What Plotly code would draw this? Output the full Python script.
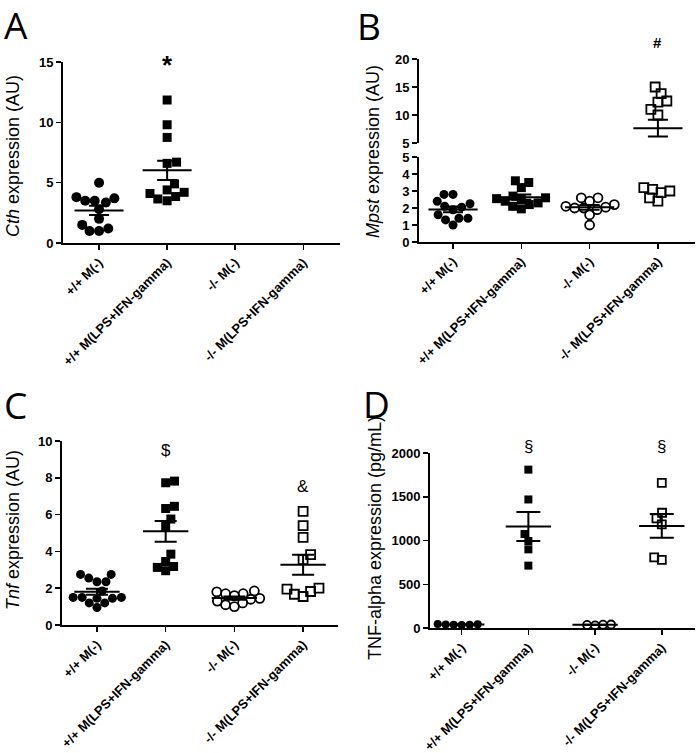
import numpy as np
import plotly.graph_objects as go

# ---------------- data ----------------
categories = ["+/+ M(-)", "+/+ M(LPS+IFN-gamma)", "-/- M(-)", "-/- M(LPS+IFN-gamma)"]

# Panel A: Cth expression (AU)
cth_wt_ctrl = [5.0, 3.8, 3.5, 3.35, 3.5, 3.7, 2.8, 2.0, 1.5, 1.2, 1.0, 1.0]
cth_wt_lps = [11.85, 9.8, 8.75, 6.6, 6.7, 4.9, 4.2, 4.1, 3.65, 3.5, 3.85, 4.4]
cth_ko_ctrl = []
cth_ko_lps = []

# Panel B: Mpst expression (AU)
mpst_wt_ctrl = [2.8, 2.8, 2.4, 2.25, 2.1, 2.05, 1.9, 1.6, 1.4, 1.3, 1.4, 1.0]
mpst_wt_lps = [3.6, 3.5, 3.2, 2.7, 2.6, 2.55, 2.5, 2.4, 2.3, 2.2, 2.1, 1.95]
mpst_ko_ctrl = [2.6, 2.6, 2.4, 2.2, 2.1, 2.05, 2.0, 2.0, 1.9, 1.6, 1.0]
mpst_ko_lps = [15.0, 13.8, 12.5, 12.3, 11.0, 10.0, 3.1, 3.2, 2.9, 3.0, 2.4, 2.6]

# Panel C: Tnf expression (AU)
tnf_wt_ctrl = [2.75, 2.75, 2.55, 2.35, 2.35, 1.85, 1.5, 1.45, 1.45, 1.5, 1.5, 1.2, 1.2, 0.95]
tnf_wt_lps = [7.73, 7.82, 6.45, 6.33, 5.76, 5.36, 3.85, 3.18, 3.45, 3.13, 2.95]
tnf_ko_ctrl = [1.85, 1.8, 1.7, 1.7, 1.6, 1.45, 1.4, 1.3, 1.2, 1.1, 1.0]
tnf_ko_lps = [6.18, 5.4, 4.76, 3.82, 3.55, 2.0, 1.95, 1.82, 1.67, 1.55]

# Panel D: TNF-alpha expression (pg/mL)
tnfa_wt_ctrl = [35, 42, 38, 45, 40, 36]
tnfa_wt_lps = [1810, 1469, 1074, 994, 899, 713]
tnfa_ko_ctrl = [30, 38, 35, 40]
tnfa_ko_lps = [1658, 1317, 1252, 1184, 778, 808]

sig_A = ["", "*", "", ""]
sig_B = ["", "", "", "#"]
sig_C = ["", "$", "", "&"]
sig_D = ["", "§", "", "§"]

# ---------------- styling ----------------
W, H = 697, 753
SYMBOLS = ["circle", "square", "circle-open", "square-open"]
FONT = "Liberation Sans, Arial, sans-serif"


def px(xp):
    return xp / W


def py(yp):
    return 1 - yp / H


def swarm(vals, to_px, d, ppc):
    """Simple beeswarm: x offsets (category units) so markers of diameter d px don't overlap."""
    n = len(vals)
    offs = [0.0] * n
    if n == 0:
        return offs
    order = np.argsort(vals, kind="stable")
    placed = []
    for k, i in enumerate(order):
        y = to_px(vals[i])
        cands = [0.0]
        for xp, yp in placed:
            dy = abs(y - yp)
            if dy < d:
                dx = (d * d - dy * dy) ** 0.5
                cands += [xp + dx, xp - dx]
        sgn = 1 if k % 2 == 0 else -1
        cands.sort(key=lambda c: (round(abs(c), 6), -sgn * c))
        chosen = 0.0
        for c in cands:
            if all((c - xp) ** 2 + (y - yp) ** 2 >= d * d - 1e-6 for xp, yp in placed):
                chosen = c
                break
        placed.append((chosen, y))
        offs[i] = chosen / ppc
    return offs


fig = go.Figure()


def add_group(xa, ya, gi, vals, to_px, d, msize, ppc):
    if len(vals) == 0:
        return
    offs = swarm(vals, to_px, d, ppc)
    sym = SYMBOLS[gi]
    openm = sym.endswith("open")
    fig.add_trace(go.Scatter(
        x=[gi + o for o in offs], y=vals, mode="markers", xaxis=xa, yaxis=ya,
        cliponaxis=False, showlegend=False, hoverinfo="skip",
        marker=dict(symbol=sym, size=msize, color="black",
                    line=dict(color="black", width=1.8 if openm else 0)),
    ))


def add_mean(xa, ya, gi, vals, half, cap):
    if len(vals) == 0:
        return
    m = float(np.mean(vals))
    s = float(np.std(vals, ddof=1) / np.sqrt(len(vals)))
    fig.add_trace(go.Scatter(
        x=[gi], y=[m], mode="markers", xaxis=xa, yaxis=ya, cliponaxis=False,
        showlegend=False, hoverinfo="skip",
        marker=dict(size=1, color="rgba(0,0,0,0)"),
        error_x=dict(type="data", array=[half], visible=True, color="black", thickness=2, width=0),
        error_y=dict(type="data", array=[s], visible=True, color="black", thickness=2, width=cap),
    ))


# Panel A
ppcA, ppuA = 68.0, 181.0 / 15
for gi, vals in enumerate([cth_wt_ctrl, cth_wt_lps, cth_ko_ctrl, cth_ko_lps]):
    add_group("x", "y", gi, vals, lambda v: v * ppuA, 9.5, 10 if gi % 2 == 0 else 9, ppcA)
for gi, vals in enumerate([cth_wt_ctrl, cth_wt_lps, cth_ko_ctrl, cth_ko_lps]):
    add_mean("x", "y", gi, vals, 0.36, 10)

# Panel B (broken axis: y2 = 0..5, y3 = 5..20)
ppcB = 68.3


def toB(v):
    return v * 16.9 if v <= 5 else 99 + (v - 5) * 5.6


for gi, vals in enumerate([mpst_wt_ctrl, mpst_wt_lps, mpst_ko_ctrl, mpst_ko_lps]):
    offs = swarm(vals, toB, 9.0, ppcB)
    low = [(gi + o, v) for o, v in zip(offs, vals) if v <= 5]
    high = [(gi + o, v) for o, v in zip(offs, vals) if v > 5]
    sym = SYMBOLS[gi]
    openm = sym.endswith("open")
    for pts, ya in ((low, "y2"), (high, "y3")):
        if not pts:
            continue
        fig.add_trace(go.Scatter(
            x=[p[0] for p in pts], y=[p[1] for p in pts], mode="markers",
            xaxis="x2", yaxis=ya, cliponaxis=False, showlegend=False, hoverinfo="skip",
            marker=dict(symbol=sym, size=9, color="black",
                        line=dict(color="black", width=1.8 if openm else 0)),
        ))
for gi, vals in enumerate([mpst_wt_ctrl, mpst_wt_lps, mpst_ko_ctrl, mpst_ko_lps]):
    ya = "y2" if np.mean(vals) <= 5 else "y3"
    add_mean("x2", ya, gi, vals, 0.36, 10)

# Panel C
ppcC, ppuC = 68.7, 18.4
for gi, vals in enumerate([tnf_wt_ctrl, tnf_wt_lps, tnf_ko_ctrl, tnf_ko_lps]):
    add_group("x3", "y4", gi, vals, lambda v: v * ppuC, 9.0, 9, ppcC)
for gi, vals in enumerate([tnf_wt_ctrl, tnf_wt_lps, tnf_ko_ctrl, tnf_ko_lps]):
    add_mean("x3", "y4", gi, vals, 0.33, 11)

# Panel D
ppcD, ppuD = 66.7, 175.0 / 2000
for gi, vals in enumerate([tnfa_wt_ctrl, tnfa_wt_lps, tnfa_ko_ctrl, tnfa_ko_lps]):
    add_group("x4", "y5", gi, vals, lambda v: v * ppuD, 8.0, 8, ppcD)
for gi, vals in enumerate([tnfa_wt_ctrl, tnfa_wt_lps, tnfa_ko_ctrl, tnfa_ko_lps]):
    add_mean("x4", "y5", gi, vals, 0.34, 12)

# ---------------- axes ----------------
tickfont = dict(family=FONT, size=13, color="black", weight="bold")
common = dict(showline=True, linecolor="black", linewidth=2, ticks="outside", ticklen=5,
              tickwidth=1.5, tickcolor="black", showgrid=False, zeroline=False,
              tickfont=tickfont, fixedrange=True, automargin=False)
xcommon = dict(common, tickmode="array", tickvals=[0, 1, 2, 3], ticktext=categories,
               tickangle=-45)

layout = dict(
    width=W, height=H, margin=dict(l=0, r=0, t=0, b=0, autoexpand=False),
    paper_bgcolor="white", plot_bgcolor="white", showlegend=False,
    font=dict(family=FONT, color="black"),
    xaxis=dict(xcommon, domain=[px(63), px(340)], range=[-0.53, 3.54], anchor="y"),
    yaxis=dict(common, domain=[py(243), py(62)], range=[0, 15], tickvals=[0, 5, 10, 15], anchor="x"),
    xaxis2=dict(xcommon, domain=[px(419), px(695)], range=[-0.498, 3.543], anchor="y2"),
    yaxis2=dict(common, domain=[py(242), py(157)], range=[0, 5], tickvals=[0, 1, 2, 3, 4, 5], anchor="x2"),
    yaxis3=dict(common, domain=[py(143), py(59)], range=[5, 20], tickvals=[5, 10, 15, 20], anchor="x2"),
    xaxis3=dict(xcommon, domain=[px(62), px(338)], range=[-0.509, 3.508], anchor="y4"),
    yaxis4=dict(common, domain=[py(625), py(441)], range=[0, 10], tickvals=[0, 2, 4, 6, 8, 10], anchor="x3"),
    xaxis4=dict(xcommon, domain=[px(430), px(695)], range=[-0.475, 3.498], anchor="y5"),
    yaxis5=dict(common, domain=[py(628), py(453)], range=[0, 2000], tickvals=[0, 500, 1000, 1500, 2000], anchor="x4"),
)
fig.update_layout(**layout)

ann = []
# panel letters
for letter, x0, yc in (("A", 2, 25), ("B", 355, 26), ("C", 2, 404), ("D", 361, 403)):
    ann.append(dict(text=letter, xref="paper", yref="paper", x=px(x0), y=py(yc),
                    xanchor="left", yanchor="middle", showarrow=False,
                    font=dict(family="Open Sans, sans-serif", size=37, color="black")))
# y titles
for text, xc, yc in (("<i>Cth</i> expression (AU)", 13, 156),
                     ("<i>Mpst</i> expression (AU)", 373, 152),
                     ("<i>Tnf</i> expression (AU)", 13, 530),
                     ("TNF-alpha expression (pg/mL)", 375, 538)):
    ann.append(dict(text=text, xref="paper", yref="paper", x=px(xc), y=py(yc),
                    xanchor="center", yanchor="middle", textangle=-90, showarrow=False,
                    font=dict(family=FONT, size=18, color="black")))
# significance marks (y in axis-domain units)
sig_specs = [
    (sig_A, "x", "y domain", [None, 0.985, None, None], 26, "bold"),
    (sig_B, "x2", "y3 domain", [None, None, None, 1.2], 15, "bold"),
    (sig_C, "x3", "y4 domain", [None, 0.95, None, 0.755], 17, "normal"),
    (sig_D, "x4", "y5 domain", [None, 1.035, None, 1.035], 17, "normal"),
]
for marks, xr, yr, ypos, size, weight in sig_specs:
    for gi, t in enumerate(marks):
        if not t:
            continue
        ann.append(dict(text=t, xref=xr, yref=yr, x=gi, y=ypos[gi], xanchor="center",
                        yanchor="middle", showarrow=False,
                        font=dict(family=FONT, size=size, color="black", weight=weight)))
fig.update_layout(annotations=ann)

fig.write_html(
    "out.html",
    config={"displayModeBar": False, "staticPlot": True},
    post_script="document.body.style.margin='0';document.body.style.padding='0';document.body.style.overflow='hidden';",
)
